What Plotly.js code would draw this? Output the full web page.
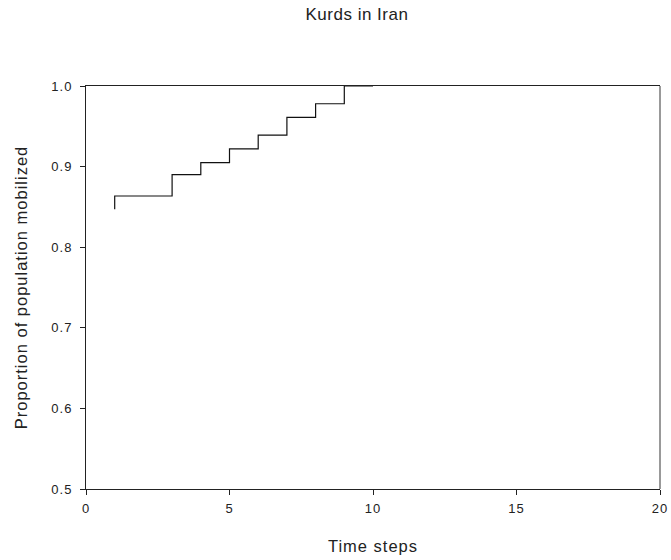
<!DOCTYPE html>
<html><head><meta charset="utf-8">
<script src="https://cdn.plot.ly/plotly-3.0.1.min.js"></script>
<style>
body{margin:0;background:#fff}#c{width:671px;height:560px}
.xtick text, .ytick text { letter-spacing: 1px; }
.xtitle, .ytitle { letter-spacing: 1px; }
.gtitle { letter-spacing: 0.5px; }
</style>
</head><body><div id="c"></div>
<script>
const timeSteps = [1, 1, 3, 4, 5, 6, 7, 8, 9, 10];
const proportion = [0.847, 0.8635, 0.890, 0.905, 0.922, 0.939, 0.961, 0.978, 1.0, 1.0];
const xTicks = [0, 5, 10, 15, 20];
const yTicks = [0.5, 0.6, 0.7, 0.8, 0.9, 1.0];

const font = "Liberation Sans, Arial, sans-serif";
Plotly.newPlot('c', [{
  x: timeSteps, y: proportion, type: 'scatter', mode: 'lines',
  line: {shape: 'hv', color: '#111', width: 1.2}, hoverinfo: 'none'
}], {
  width: 671, height: 560,
  margin: {l: 86, r: 11, t: 86, b: 71},
  paper_bgcolor: '#fff', plot_bgcolor: '#fff',
  showlegend: false,
  title: {text: 'Kurds in Iran', x: 0.532, xanchor: 'center', y: 0.985, yanchor: 'top',
          font: {family: font, size: 17, color: '#222'}},
  xaxis: {range: [0, 20], tickvals: xTicks, ticktext: xTicks.map(String),
          showgrid: false, zeroline: false, showline: true, linecolor: '#222', linewidth: 1,
          mirror: true, ticks: 'outside', ticklen: 5, tickcolor: '#222', ticklabelstandoff: 2,
          tickfont: {family: font, size: 13, color: '#222'},
          title: {text: 'Time steps', font: {family: font, size: 16.5, color: '#222'}, standoff: 25}},
  yaxis: {range: [0.5, 1.0], tickvals: yTicks, ticktext: yTicks.map(v => v.toFixed(1)),
          showgrid: false, zeroline: false, showline: true, linecolor: '#222', linewidth: 1,
          ticks: 'outside', ticklen: 5, tickcolor: '#222', ticklabelstandoff: 5,
          tickfont: {family: font, size: 13, color: '#222'},
          title: {text: 'Proportion of population mobilized', font: {family: font, size: 16.5, color: '#222'}, standoff: 19}},
  shapes: [{type: 'line', xref: 'paper', yref: 'paper', x0: 1, x1: 1, y0: 0, y1: 1,
            line: {color: '#777', width: 1.5}}]
}, {staticPlot: true});
</script></body></html>
